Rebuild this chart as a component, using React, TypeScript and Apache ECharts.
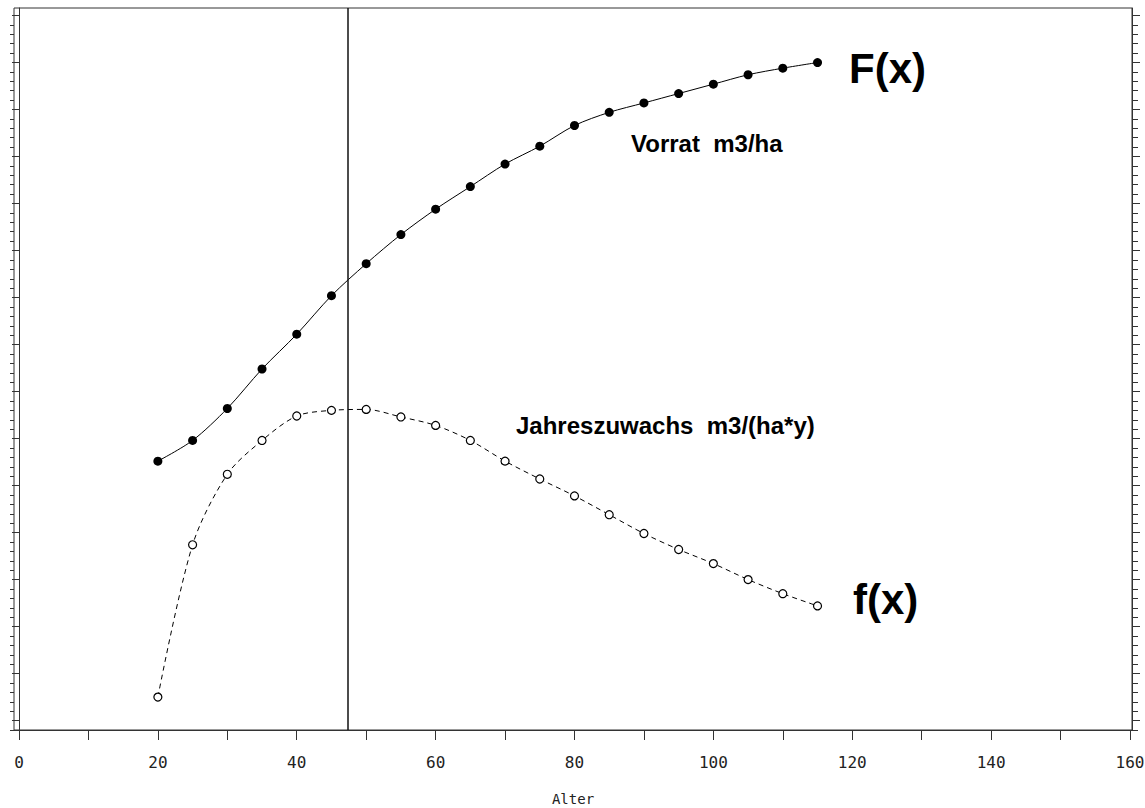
import React, { useEffect, useRef } from "react";
import * as echarts from "echarts";

const ages = [20, 25, 30, 35, 40, 45, 50, 55, 60, 65, 70, 75, 80, 85, 90, 95, 100, 105, 110, 115];
const vorrat = [286, 308, 342, 384, 421, 462, 496, 527, 554, 578, 602, 621, 643, 657, 667, 677, 687, 697, 704, 710];
const zuwachs = [35, 197, 272, 308, 334, 340, 341, 333, 324, 308, 286, 267, 249, 229, 209, 192, 177, 160, 145, 132];
const xTickLabels = [0, 20, 40, 60, 80, 100, 120, 140, 160];
const xTicks = [0, 10, 20, 30, 40, 50, 60, 70, 80, 90, 100, 110, 120, 130, 140, 150, 160];
const yMajorTicks = [10, 60, 110, 160, 210, 260, 310, 360, 410, 460, 510, 560, 610, 660, 710, 760];
const yMinorTicks: number[] = [];
for (let v = 0; v <= 760; v += 10) if (!yMajorTicks.includes(v)) yMinorTicks.push(v);
const markerAge = 47.4;

export default function App() {
  const ref = useRef<HTMLDivElement>(null);
  useEffect(() => {
    if (!ref.current) return;
    const chart = echarts.init(ref.current, undefined, { renderer: "svg" });
    const axisColor = "#333";
    const yAxisBase = (position: string, ticks: number[], len: number, showLine: boolean) => ({
      type: "value",
      position,
      min: 0,
      max: 768,
      axisLine: { show: showLine, lineStyle: { color: axisColor, width: 1 } },
      axisTick: { show: true, inside: false, length: len, customValues: ticks, lineStyle: { color: axisColor, width: 1 } },
      axisLabel: { show: false },
      splitLine: { show: false },
    });
    chart.setOption({
      animation: false,
      backgroundColor: "#fff",
      grid: {
        left: 14,
        right: 13,
        top: 8,
        bottom: 78,
        containLabel: false,
        outerBoundsMode: "none",
        show: true,
        borderColor: axisColor,
        borderWidth: 1,
        backgroundColor: "transparent",
      },
      xAxis: {
        type: "value",
        min: -0.72,
        max: 160.29,
        name: "Alter",
        nameLocation: "middle",
        nameGap: 62,
        nameTextStyle: { fontFamily: "DejaVu Sans Mono", fontSize: 14, color: "#222" },
        axisLine: { show: true, lineStyle: { color: axisColor, width: 1 } },
        axisTick: { show: true, length: 10, customValues: xTicks, lineStyle: { color: axisColor, width: 1 } },
        axisLabel: {
          show: true,
          customValues: xTickLabels,
          margin: 24,
          fontFamily: "DejaVu Sans Mono",
          fontSize: 16,
          color: "#222",
        },
        splitLine: { show: false },
      },
      yAxis: [
        yAxisBase("left", yMajorTicks, 7, true),
        yAxisBase("left", yMinorTicks, 4, false),
        yAxisBase("right", yMajorTicks, 8, true),
        yAxisBase("right", yMinorTicks, 6, false),
      ],
      series: [
        {
          type: "line",
          name: "Vorrat m3/ha",
          yAxisIndex: 0,
          data: ages.map((a, i) => [a, vorrat[i]]),
          smooth: 0.3,
          symbol: "circle",
          symbolSize: 9,
          itemStyle: { color: "#000", borderColor: "#000", borderWidth: 0 },
          lineStyle: { color: "#000", width: 1 },
          markLine: {
            silent: true,
            symbol: "none",
            label: { show: false },
            lineStyle: { color: "#111", width: 1.5, type: "solid" },
            data: [{ xAxis: markerAge }],
          },
        },
        {
          type: "line",
          name: "Jahreszuwachs m3/(ha*y)",
          yAxisIndex: 0,
          data: ages.map((a, i) => [a, zuwachs[i]]),
          smooth: 0.3,
          symbol: "circle",
          symbolSize: 8,
          itemStyle: { color: "#fff", borderColor: "#000", borderWidth: 1.2 },
          lineStyle: { color: "#000", width: 1, type: [5, 4] },
        },
      ],
      graphic: [
        {
          type: "text",
          left: 849,
          top: 47,
          style: { text: "F(x)", font: "bold 42px 'Liberation Sans', Arial, sans-serif", fill: "#000" },
        },
        {
          type: "text",
          left: 853,
          top: 578,
          style: { text: "f(x)", font: "bold 42px 'Liberation Sans', Arial, sans-serif", fill: "#000" },
        },
        {
          type: "text",
          left: 631,
          top: 131,
          style: { text: "Vorrat  m3/ha", font: "bold 24px 'Liberation Sans', Arial, sans-serif", fill: "#000" },
        },
        {
          type: "text",
          left: 516,
          top: 413,
          style: { text: "Jahreszuwachs  m3/(ha*y)", font: "bold 24px 'Liberation Sans', Arial, sans-serif", fill: "#000" },
        },
      ],
    });
    return () => chart.dispose();
  }, []);
  return (
    <div
      ref={ref}
      style={{ position: "absolute", left: 0, top: 0, width: 1145, height: 808, background: "#fff" }}
    />
  );
}
